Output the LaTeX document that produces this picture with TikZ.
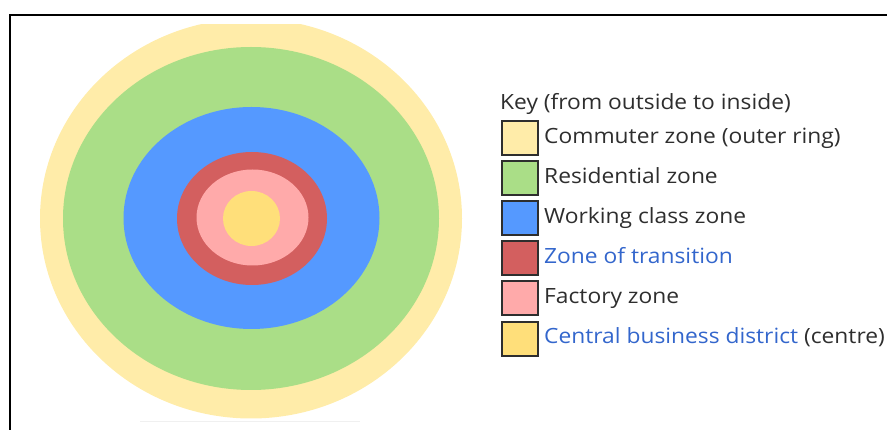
\documentclass[tikz,border=0pt]{standalone}
\usepackage{fontspec}
\setmainfont{Open Sans}
\newfontfamily\keyfont[FakeStretch=1.085]{Open Sans}
\definecolor{commuter}{HTML}{FFECA9}
\definecolor{resid}{HTML}{AADE87}
\definecolor{working}{HTML}{5599FF}
\definecolor{transit}{HTML}{D35F5F}
\definecolor{factory}{HTML}{FFAAAA}
\definecolor{cbd}{HTML}{FFDF7A}
\definecolor{txt}{HTML}{2E2E2E}
\definecolor{link}{HTML}{3366CC}
\begin{document}
\begin{tikzpicture}[x=1pt,y=-1pt,
  keybox/.style={draw=txt,line width=1.5pt,minimum width=36pt,minimum height=34pt,inner sep=0pt,anchor=north west},
  keytext/.style={anchor=base west,inner sep=0pt,text=txt,font=\keyfont\fontsize{21}{24}\selectfont}]
\useasboundingbox (0,0) rectangle (887,430);
\draw[line width=2pt,black] (10,432) -- (10,15) -- (889,15);
\draw[line width=0.8pt,black!6] (140,421) -- (360,421);
\begin{scope}
  \clip (0,25) rectangle (887,418.5);
  \fill[commuter] (251,218.5) ellipse [x radius=211, y radius=200];
\end{scope}
\fill[resid] (251,218.5) ellipse [x radius=188, y radius=171.5];
\fill[working] (251.5,218) ellipse [x radius=128, y radius=111];
\fill[transit] (252,218.5) ellipse [x radius=75, y radius=66.5];
\fill[factory] (252.5,217.5) ellipse [x radius=56, y radius=48];
\fill[cbd] (251.5,218.5) ellipse [x radius=28.5, y radius=27.5];
% key
\node[keytext] (key) at (500,110) {Key (from outside to inside)};
\node[keybox,fill=commuter] (b1) at (501,120.5) {};
\node[keybox,fill=resid] (b2) at (501,160.5) {};
\node[keybox,fill=working] (b3) at (501,200.5) {};
\node[keybox,fill=transit] (b4) at (501,240.5) {};
\node[keybox,fill=factory] (b5) at (501,280.5) {};
\node[keybox,fill=cbd] (b6) at (501,321.5) {};
\node[keytext] (t1) at (544,144) {Commuter zone (outer ring)};
\node[keytext] (t2) at (544,184) {Residential zone};
\node[keytext] (t3) at (544,224) {Working class zone};
\node[keytext,text=link] (t4) at (544,264) {Zone of transition};
\node[keytext] (t5) at (544,304) {Factory zone};
\node[keytext] (t6) at (544,344) {\textcolor{link}{Central business district} (centre)};
\end{tikzpicture}
\end{document}
